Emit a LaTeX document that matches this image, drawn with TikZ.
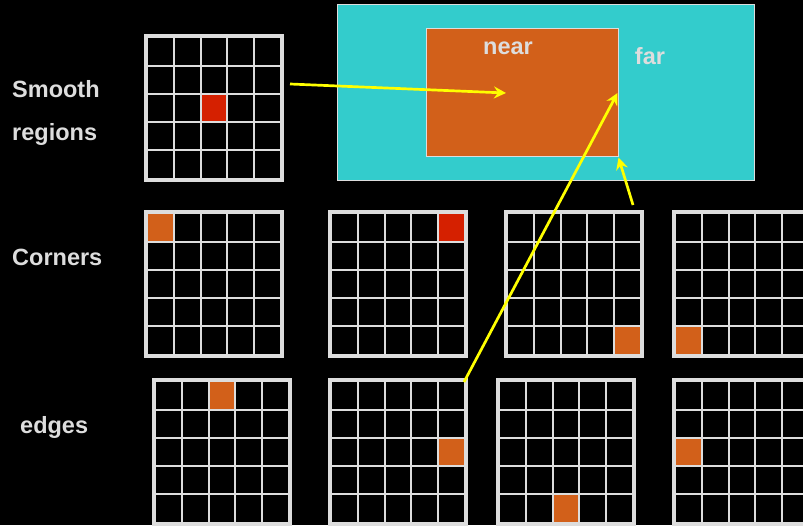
\documentclass[tikz,border=0pt]{standalone}
\usepackage{fontspec}
\setmainfont{Liberation Sans}
\usetikzlibrary{arrows.meta}
\definecolor{cellred}{HTML}{D52000}
\definecolor{cellorange}{HTML}{D2601A}
\definecolor{farcyan}{HTML}{33CCCC}
\definecolor{lightgray}{HTML}{DDDDDD}
\definecolor{arrowyellow}{HTML}{FFFF00}
\tikzset{
  gridframe/.style={draw=lightgray, line width=4pt, minimum width=136pt, minimum height=144pt, inner sep=0pt, outer sep=0pt},
  gridline/.style={draw=lightgray, line width=2pt},
  label/.style={text=lightgray, font=\fontsize{23.5}{27}\selectfont\bfseries, inner sep=0pt},
  pointer/.style={draw=arrowyellow, line width=2.7pt, -{Stealth[length=12pt,width=12pt,inset=4pt]}},
}
\newcommand\mkgrid[6]{%
  \fill[#6] ({#2+4+#5*26.4},{#3+4+#4*28}) rectangle ++(26.4,28);
  \foreach \k in {1,...,4} {
    \draw[gridline] ({#2+4+\k*26.4},{#3+2}) -- ++(0,144);
    \draw[gridline] ({#2+2},{#3+4+\k*28}) -- ++(136,0);
  }
  \node[gridframe] (#1) at ({#2+70},{#3+74}) {};
}
\begin{document}
\begin{tikzpicture}[x=1pt,y=-1pt]
\useasboundingbox (0,0) rectangle (803,525);
\fill[black] (0,0) rectangle (803,525);

% far / near boxes
\node[draw=lightgray, line width=1pt, fill=farcyan, minimum width=417pt, minimum height=176pt, inner sep=0pt] (far) at (545.5,92) {};
\node[draw=lightgray, line width=1pt, fill=cellorange, minimum width=192pt, minimum height=128pt, inner sep=0pt] (near) at (522,92) {};
\node[label] (neartxt) at (508,48) {near};
\node[label] (fartxt) at (650,56) {far};

% row labels
\node[label, anchor=base west] (smooth) at (12,97) {Smooth};
\node[label, anchor=base west] (regions) at (12,140) {regions};
\node[label, anchor=base west] (corners) at (12,265) {Corners};
\node[label, anchor=base west] (edges) at (20,433) {edges};

% grids
\mkgrid{gs}{144}{34}{2}{2}{cellred}
\mkgrid{ca}{144}{210}{0}{0}{cellorange}
\mkgrid{cb}{328}{210}{0}{4}{cellred}
\mkgrid{cc}{504}{210}{4}{4}{cellorange}
\mkgrid{cd}{672}{210}{4}{0}{cellorange}
\mkgrid{ea}{152}{378}{0}{2}{cellorange}
\mkgrid{eb}{328}{378}{2}{4}{cellorange}
\mkgrid{ec}{496}{378}{4}{2}{cellorange}
\mkgrid{ed}{672}{378}{2}{0}{cellorange}

% arrows
\coordinate (s1) at (290,84);
\coordinate (t1) at (506,93);
\coordinate (s3) at (633,205);
\draw[pointer] (s1) -- (t1);
\draw[pointer] ([shift={(-2,2)}]eb.north east) -- ([shift={(-1,1)}]near.east);
\draw[pointer] (s3) -- ([shift={(0,1)}]near.south east);
\end{tikzpicture}
\end{document}
